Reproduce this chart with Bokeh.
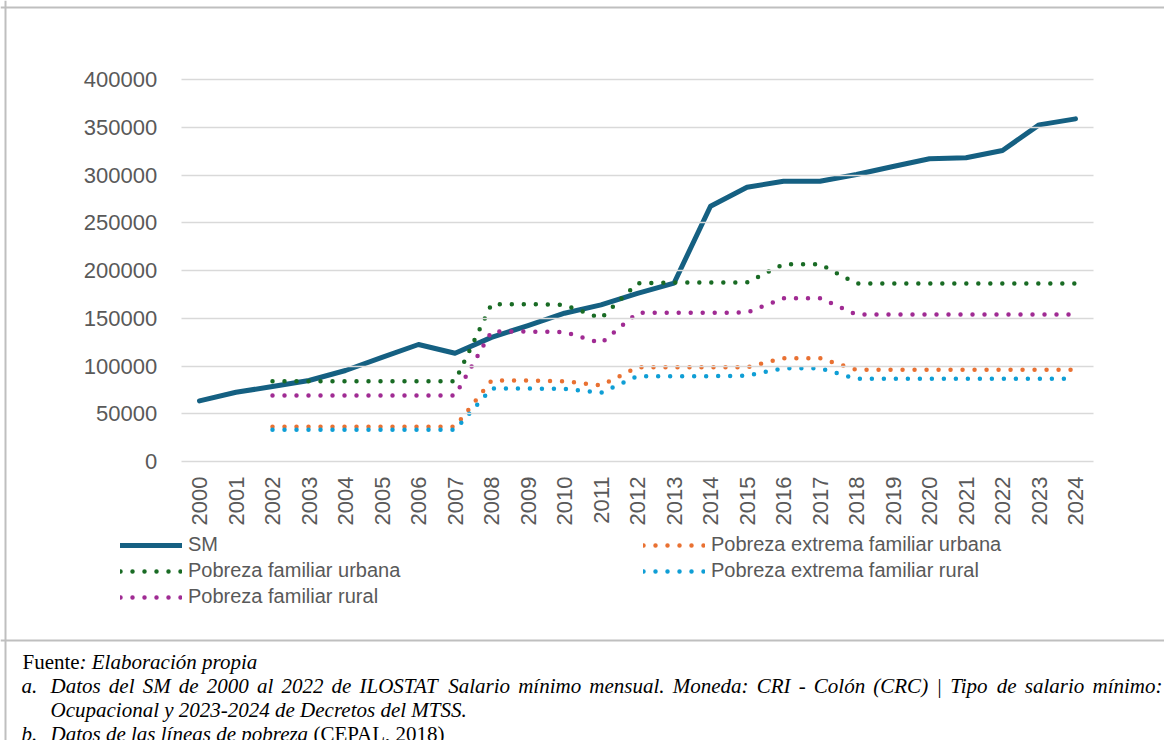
from bokeh.plotting import figure
from bokeh.models import (Range1d, FixedTicker, Legend, LegendItem, Label, LinearAxis,
                          Span, BasicTickFormatter)
from bokeh.embed import file_html
from bokeh.resources import INLINE
import math

# ---------------- data ----------------
years = [2000, 2001, 2002, 2003, 2004, 2005, 2006, 2007, 2008, 2009, 2010, 2011,
         2012, 2013, 2014, 2015, 2016, 2017, 2018, 2019, 2020, 2021, 2022, 2023, 2024]
sm = [63500, 72500, 78500, 84800, 95300, 109000, 122500, 113400, 130000, 142400,
      155300, 164000, 176000, 186700, 267300, 287200, 293500, 293500, 300500,
      308900, 317000, 318000, 325600, 352500, 358800]

pov_years = [2002, 2003, 2004, 2005, 2006, 2007, 2008, 2009, 2010, 2011, 2012, 2013,
             2014, 2015, 2016, 2017, 2018, 2019, 2020, 2021, 2022, 2023, 2024]
pobreza_ext_urbana = [36300, 36300, 36300, 36300, 36300, 36300, 84800, 84800, 84000,
                      79600, 98700, 98700, 98700, 98700, 108200, 108200, 96000, 96000,
                      96000, 96000, 96000, 96000, 96000]
pobreza_urbana = [84100, 84100, 84100, 84100, 84100, 84100, 164700, 164700, 164000,
                  150000, 186700, 187500, 187500, 187500, 206500, 206500, 186400, 186400,
                  186400, 186400, 186400, 186400, 186400]
pobreza_ext_rural = [33200, 33200, 33200, 33200, 33200, 33200, 76400, 76400, 76000,
                     72000, 89300, 89300, 89300, 89800, 97700, 97700, 86600, 86600,
                     86600, 86600, 86600, 86600, 86600]
pobreza_rural = [69100, 69100, 69100, 69100, 69100, 69100, 136100, 136100, 135500,
                 123900, 155700, 155700, 155700, 156000, 171000, 171000, 153900, 153900,
                 153900, 153900, 153900, 153900, 153900]

y_ticks = [0, 50000, 100000, 150000, 200000, 250000, 300000, 350000, 400000]

labels_legend = ["SM", "Pobreza extrema familiar urbana", "Pobreza familiar urbana",
                 "Pobreza extrema familiar rural", "Pobreza familiar rural"]

fuente_a = "Fuente"
fuente_b = ": Elaboración propia"
nota_a_1 = "Datos del SM de 2000 al 2022 de ILOSTAT Salario mínimo mensual. Moneda: CRI - Colón (CRC) | Tipo de salario mínimo:"
nota_a_2 = "Ocupacional y 2023-2024 de Decretos del MTSS."
nota_b_1 = "Datos de las líneas de pobreza"
nota_b_2 = "(CEPAL, 2018)"

# ---------------- layout (page pixels) ----------------
W, H = 1164, 740
PX_FIRST, PX_LAST = 199, 1075      # pixel x of first / last year
PY_ZERO, PY_TOP = 461, 79          # pixel y of 0 and of 400000
px_per_year = (PX_LAST - PX_FIRST) / (years[-1] - years[0])
px_per_unit = (PY_ZERO - PY_TOP) / y_ticks[-1]
x_start = years[0] - PX_FIRST / px_per_year
y_start = -(H - PY_ZERO) / px_per_unit

p = figure(width=W, height=H, output_backend="svg", toolbar_location=None, title=None,
           x_range=Range1d(x_start, x_start + W / px_per_year),
           y_range=Range1d(y_start, y_start + H / px_per_unit),
           x_axis_type=None, y_axis_type=None, min_border=0)
p.outline_line_color = None
p.background_fill_color = "white"
p.border_fill_color = "white"

def sy(y):
    return H - y

def dx(px):
    return x_start + px / px_per_year

def dy(py):
    return y_start + (H - py) / px_per_unit

TICK_FONT = "Liberation Sans"
x_lo, x_hi = years[0] - 0.5, years[-1] + 0.5
plot_w = (x_hi - x_lo) * px_per_year

yax = LinearAxis(fixed_location=x_lo, ticker=FixedTicker(ticks=y_ticks),
                 formatter=BasicTickFormatter(use_scientific=False),
                 axis_line_color=None, minor_tick_line_color=None,
                 major_tick_line_color="#D9D9D9", major_tick_line_width=1.5,
                 major_tick_in=int(round(plot_w)), major_tick_out=0,
                 major_label_standoff=24, major_label_text_font=TICK_FONT,
                 major_label_text_font_size="22px", major_label_text_color="#595959")
p.add_layout(yax, "left")

xax = LinearAxis(fixed_location=0, ticker=FixedTicker(ticks=years),
                 axis_line_color=None, minor_tick_line_color=None,
                 major_tick_line_color=None, major_tick_in=0, major_tick_out=0,
                 major_label_orientation=math.pi / 2, major_label_standoff=15,
                 major_label_text_font=TICK_FONT, major_label_text_font_size="22px",
                 major_label_text_color="#595959")
p.add_layout(xax, "below")

DOT = dict(line_width=4.5, line_dash="0 12", line_cap="round", line_join="round")
r_sm = p.line(years, sm, line_color="#156082", line_width=5, line_cap="round", line_join="round")
r_peu = p.line(pov_years, pobreza_ext_urbana, line_color="#E97132", **DOT)
r_pu = p.line(pov_years, pobreza_urbana, line_color="#196B24", **DOT)
r_per = p.line(pov_years, pobreza_ext_rural, line_color="#0F9ED5", **DOT)
r_pr = p.line(pov_years, pobreza_rural, line_color="#A02B93", **DOT)

rends = [r_sm, r_peu, r_pu, r_per, r_pr]
legend = Legend(items=[LegendItem(label=l, renderers=[r]) for l, r in zip(labels_legend, rends)],
                location=(120, sy(608)), orientation="horizontal", ncols=2,
                glyph_width=62, glyph_height=20, label_height=20, label_width=452,
                label_standoff=6, spacing=3, padding=0, margin=0,
                label_text_font=TICK_FONT, label_text_font_size="20px",
                label_text_color="#595959", border_line_color=None,
                background_fill_alpha=0)
p.add_layout(legend)

# chart box border
BORDER = dict(line_color="#BFBFBF", line_width=2)
p.add_layout(Span(location=dy(7), dimension="width", **BORDER))
p.add_layout(Span(location=dy(640), dimension="width", **BORDER))
p.add_layout(Span(location=dx(5), dimension="height", **BORDER))

SERIF = "Liberation Serif"
NOTE_SIZE = 21

def note(x, y, text, italic, align="left"):
    p.add_layout(Label(x=x, y=sy(y), x_units="screen", y_units="screen", text=text,
                       text_font=SERIF, text_font_size=f"{NOTE_SIZE}px", text_color="black",
                       text_font_style="italic" if italic else "normal",
                       text_baseline="alphabetic", text_align=align))

# approximate advance widths (1/1000 em) of the italic serif face, used to justify line a
ITALIC_W = {' ': 250, 'a': 500, 'b': 500, 'c': 444, 'd': 500, 'e': 444, 'f': 278, 'g': 500,
            'h': 500, 'i': 278, 'l': 278, 'm': 722, 'n': 500, 'o': 500, 'p': 500, 'r': 389,
            's': 389, 't': 278, 'u': 500, 'í': 278, 'ó': 500, 'A': 611, 'C': 667, 'D': 722,
            'I': 333, 'L': 556, 'M': 833, 'O': 722, 'R': 611, 'S': 500, 'T': 556, '.': 250,
            ':': 333, '-': 333, '(': 333, ')': 333, '|': 275}

def natural_width(s):
    return sum(ITALIC_W.get(c, 500) for c in s) * NOTE_SIZE / 1000

def justified(x0, x1, y, text):
    words = text.split(" ")
    widths = [natural_width(w) for w in words]
    gap = (x1 - x0 - sum(widths)) / (len(words) - 1)
    x = x0
    for w, ww in zip(words, widths):
        note(x, y, w, True)
        x += ww + gap

note(22, 661, fuente_a, False)
note(79, 661, fuente_b, True)
note(21, 685, "a.", True)
justified(50, 1162, 685, nota_a_1)
note(50, 709, nota_a_2, True)
note(21, 733, "b.", True)
note(50, 733, nota_b_1, True)
note(313, 733, nota_b_2, False)

open("out.html", "w").write(file_html(p, INLINE))
